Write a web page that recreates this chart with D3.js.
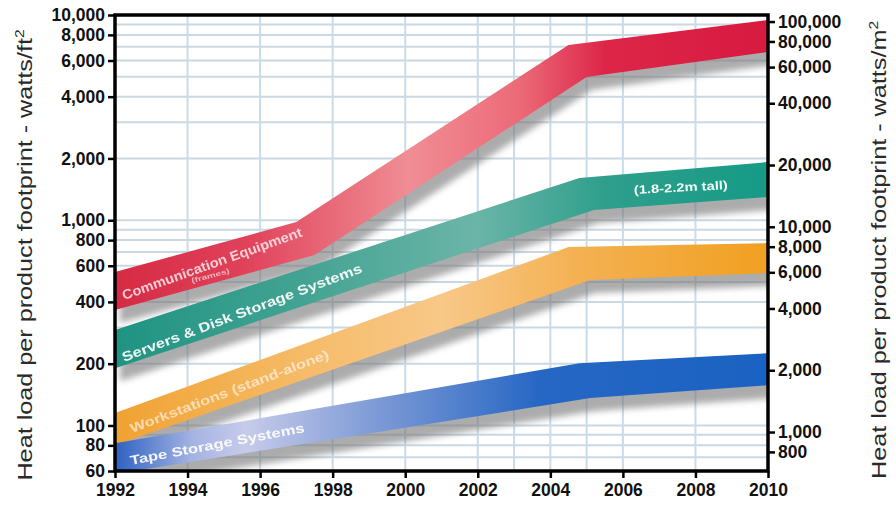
<!DOCTYPE html>
<html>
<head>
<meta charset="utf-8">
<script src="https://d3js.org/d3.v7.min.js"></script>
<style>
body { margin: 0; background: #fff; }
svg text { font-family: "Liberation Sans", Arial, sans-serif; }
</style>
</head>
<body>
<script>
// band edges, heat load in watts/ft2 (top edge and bottom edge of each band)
var commTopYears = [1992, 1997, 2004.5, 2010];
var commTop = [559, 980, 7140, 9455];
var commBottomYears = [1992, 1997.5, 2005, 2010];
var commBottom = [365, 677, 4988, 6603];

var serverTopYears = [1992, 2004.8, 2010];
var serverTop = [292, 1606, 1921];
var serverBottomYears = [1992, 2005.2, 2010];
var serverBottom = [190, 1121, 1298];

var workTopYears = [1992, 2004.5, 2010];
var workTop = [115, 740, 774];
var workBottomYears = [1992, 2005.1, 2010];
var workBottom = [80, 511, 553];

var tapeTopYears = [1992, 2004.8, 2010];
var tapeTop = [82, 201, 225];
var tapeBottomYears = [1992, 2005.1, 2010];
var tapeBottom = [58, 136, 157];

var yearTicks = [1992, 1994, 1996, 1998, 2000, 2002, 2004, 2006, 2008, 2010];
var gridYears = [1994, 1996, 1998, 2000, 2002, 2003, 2004, 2005, 2006, 2008];
var leftTicks = [60, 80, 100, 200, 400, 600, 800, 1000, 2000, 4000, 6000, 8000, 10000];
var rightTicks = [800, 1000, 2000, 4000, 6000, 8000, 10000, 20000, 40000, 60000, 80000, 100000];
var ftToM = 10.764;

var W = 896, H = 506;
var pLeft = 115, pRight = 768, pTop = 15, pBottom = 471;

var svg = d3.select("body").append("svg")
    .attr("width", W)
    .attr("height", H);

var x = d3.scaleLinear().domain([1992, 2010]).range([pLeft, pRight]);
var y = d3.scaleLog().domain([60, 10000]).range([pBottom, pTop]);
var yM = d3.scaleLog().domain([60 * ftToM, 10000 * ftToM]).range([pBottom, pTop]);

var defs = svg.append("defs");
defs.append("clipPath").attr("id", "plot")
    .append("rect").attr("x", pLeft).attr("y", pTop)
    .attr("width", pRight - pLeft).attr("height", pBottom - pTop);

var blur = defs.append("filter").attr("id", "blur")
    .attr("x", "-10%").attr("y", "-10%").attr("width", "120%").attr("height", "140%");
blur.append("feGaussianBlur").attr("stdDeviation", 3);

function gradient(id, stops) {
    var g = defs.append("linearGradient").attr("id", id)
        .attr("gradientUnits", "userSpaceOnUse")
        .attr("x1", pLeft).attr("x2", pRight).attr("y1", 0).attr("y2", 0);
    stops.forEach(function (s) {
        g.append("stop").attr("offset", s[0]).attr("stop-color", s[1]);
    });
}
gradient("gComm", [[0, "#d62a44"], [0.2, "#e0425a"], [0.45, "#f08d94"], [0.62, "#ec6a78"], [0.75, "#dc2648"], [1, "#d81a40"]]);
gradient("gServ", [[0, "#1f9382"], [0.3, "#45a493"], [0.55, "#6bb5a8"], [0.75, "#2f9f8c"], [1, "#159b86"]]);
gradient("gWork", [[0, "#f0a232"], [0.3, "#f6bc6a"], [0.5, "#f8c888"], [0.72, "#f4b050"], [1, "#f1a020"]]);
gradient("gTape", [[0, "#2d62c2"], [0.12, "#a6b4e2"], [0.2, "#c6cbea"], [0.4, "#7d9ad6"], [0.65, "#2667c4"], [1, "#1a62c2"]]);

// grid
var grid = svg.append("g");
var minor = [];
[10, 100, 1000].forEach(function (p) {
    for (var k = 1; k <= 9; k++) {
        var v = k * p;
        if (v >= 60 && v <= 10000) minor.push(v);
    }
});
grid.selectAll("line.h")
    .data(minor)
    .enter().append("line")
    .attr("x1", pLeft).attr("x2", pRight)
    .attr("y1", function (d) { return y(d); })
    .attr("y2", function (d) { return y(d); })
    .style("stroke", "#cad8e2")
    .style("stroke-width", 2);
grid.selectAll("line.v")
    .data(gridYears)
    .enter().append("line")
    .attr("y1", pTop).attr("y2", pBottom)
    .attr("x1", function (d) { return x(d); })
    .attr("x2", function (d) { return x(d); })
    .style("stroke", "#c8dbe8")
    .style("stroke-width", 2);

var bands = [
    {name: "comm", fill: "url(#gComm)", ty: commTopYears, t: commTop, by: commBottomYears, b: commBottom},
    {name: "serv", fill: "url(#gServ)", ty: serverTopYears, t: serverTop, by: serverBottomYears, b: serverBottom},
    {name: "work", fill: "url(#gWork)", ty: workTopYears, t: workTop, by: workBottomYears, b: workBottom},
    {name: "tape", fill: "url(#gTape)", ty: tapeTopYears, t: tapeTop, by: tapeBottomYears, b: tapeBottom}
];

var line = d3.line()
    .x(function (d) { return x(d[0]); })
    .y(function (d) { return y(d[1]); });

function bandPath(d) {
    var pts = d.ty.map(function (yr, i) { return [yr, d.t[i]]; });
    var low = d.by.map(function (yr, i) { return [yr, d.b[i]]; }).reverse();
    return line(pts.concat(low)) + "Z";
}

var plot = svg.append("g").attr("clip-path", "url(#plot)");

plot.selectAll("path.shadow")
    .data(bands)
    .enter().append("path")
    .attr("class", "shadow")
    .attr("d", bandPath)
    .attr("transform", "translate(5,13)")
    .attr("filter", "url(#blur)")
    .style("fill", "#767676")
    .style("opacity", 0.6);

plot.selectAll("path.band")
    .data(bands)
    .enter().append("path")
    .attr("class", "band")
    .attr("d", bandPath)
    .style("fill", function (d) { return d.fill; });

// labels on the bands
var labels = [
    {text: "Communication Equipment", x0: 124, y0: 300, x1: 303, y1: 236, size: 13.5, op: 0.75},
    {text: "(frames)", x0: 192, y0: 283, x1: 230, y1: 273, size: 7, op: 0.6},
    {text: "Servers & Disk Storage Systems", x0: 124, y0: 362, x1: 363, y1: 272, size: 13.5, op: 0.92},
    {text: "Workstations (stand-alone)", x0: 132, y0: 433, x1: 330, y1: 358, size: 13, op: 0.6},
    {text: "Tape Storage Systems", x0: 131, y0: 465, x1: 305, y1: 432, size: 13, op: 0.92},
    {text: "(1.8-2.2m tall)", x0: 634, y0: 194, x1: 728, y1: 189, size: 12, op: 0.95}
];
svg.selectAll("text.lab")
    .data(labels)
    .enter().append("text")
    .attr("class", "lab")
    .attr("transform", function (d) {
        var a = Math.atan2(d.y1 - d.y0, d.x1 - d.x0) * 180 / Math.PI;
        return "translate(" + d.x0 + "," + d.y0 + ") rotate(" + a + ")";
    })
    .attr("textLength", function (d) { return Math.hypot(d.x1 - d.x0, d.y1 - d.y0); })
    .attr("lengthAdjust", "spacingAndGlyphs")
    .style("font-size", function (d) { return d.size + "px"; })
    .style("font-weight", "bold")
    .style("fill", "#fff")
    .style("opacity", function (d) { return d.op; })
    .text(function (d) { return d.text; });

// axes
var fmt = d3.format(",");
var yAxisL = svg.append("g")
    .attr("transform", "translate(" + pLeft + ",0)")
    .call(d3.axisLeft(y).tickValues(leftTicks).tickFormat(fmt).tickSize(7).tickPadding(3));
var yAxisR = svg.append("g")
    .attr("transform", "translate(" + pRight + ",0)")
    .call(d3.axisRight(yM).tickValues(rightTicks).tickFormat(fmt).tickSize(7).tickPadding(3));
var xAxis = svg.append("g")
    .attr("transform", "translate(0," + pBottom + ")")
    .call(d3.axisBottom(x).tickValues(yearTicks).tickFormat(d3.format("d")).tickSize(7).tickPadding(6));

[yAxisL, yAxisR, xAxis].forEach(function (g) {
    g.select(".domain").remove();
    g.selectAll(".tick line").style("stroke", "#000").style("stroke-width", 2.5);
    g.selectAll(".tick text")
        .style("font-family", "'Liberation Sans', Arial, sans-serif")
        .style("font-size", "17.5px")
        .style("font-weight", "bold")
        .style("fill", "#111");
});

svg.append("rect")
    .attr("x", pLeft).attr("y", pTop)
    .attr("width", pRight - pLeft).attr("height", pBottom - pTop)
    .style("fill", "none")
    .style("stroke", "#000")
    .style("stroke-width", 3.5);

// axis titles, stretched along the text like the original
function title(xPos, yPos, unit) {
    var t = svg.append("text")
        .attr("transform", "translate(" + xPos + "," + yPos + ") rotate(-90) scale(1.2,1)")
        .attr("text-anchor", "middle")
        .style("font-size", "21px")
        .style("fill", "#2a2a2a");
    t.append("tspan").text("Heat load per product footprint - watts/" + unit);
    t.append("tspan").attr("dy", -8).style("font-size", "13px").text("2");
}
title(32, 255, "ft");
title(886, 250, "m");
</script>
</body>
</html>
